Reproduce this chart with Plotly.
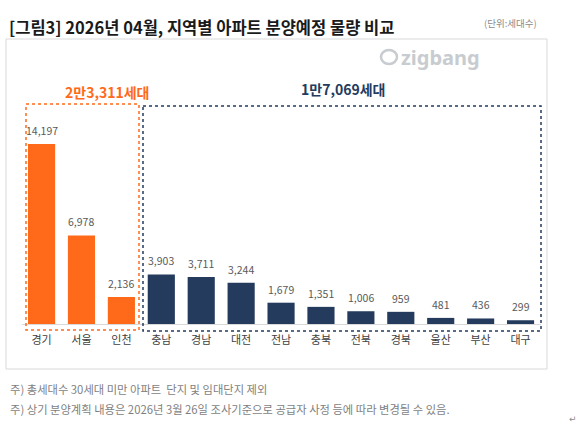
import plotly.graph_objects as go

W, H = 580, 426

regions = ["경기", "서울", "인천", "충남", "경남", "대전", "전남", "충북", "전북", "경북", "울산", "부산", "대구"]
units = [14197, 6978, 2136, 3903, 3711, 3244, 1679, 1351, 1006, 959, 481, 436, 299]
groups = ["capital"] * 3 + ["local"] * 10

title_text = "[그림3] 2026년 04월, 지역별 아파트 분양예정 물량 비교"
unit_text = "(단위:세대수)"
capital_total = "2만3,311세대"
local_total = "1만7,069세대"
notes = [
    "주) 총세대수 30세대 미만 아파트  단지 및 임대단지 제외",
    "주) 상기 분양계획 내용은 2026년 3월 26일 조사기준으로 공급자 사정 등에 따라 변경될 수 있음.",
]

ORANGE = "#FF6A1A"
NAVY = "#243B5E"
FONT = "Noto Sans CJK KR"

def px(x):
    return x / W

def py(y):
    return (H - y) / H

colors = [ORANGE if g == "capital" else NAVY for g in groups]

fig = go.Figure(go.Bar(
    x=regions, y=units, marker_color=colors, marker_line_width=0,
    width=0.68, hoverinfo="skip",
))

ann = []
for r, v in zip(regions, units):
    ann.append(dict(x=r, y=v, xref="x", yref="y", text=f"{v:,}", showarrow=False,
                    yanchor="bottom", yshift=4,
                    font=dict(family=FONT, size=10.5, color="#595959")))

ann += [
    dict(x=px(7), y=py(27), xref="paper", yref="paper", text=f"<b>{title_text}</b>",
         showarrow=False, xanchor="left", yanchor="middle",
         font=dict(family=FONT, size=16.5, color="#1A1A1A")),
    dict(x=px(539), y=py(23), xref="paper", yref="paper", text=unit_text,
         showarrow=False, xanchor="right", yanchor="middle",
         font=dict(family=FONT, size=9.5, color="#8C8C8C")),
    dict(x=px(107), y=py(92), xref="paper", yref="paper", text=f"<b>{capital_total}</b>",
         showarrow=False, xanchor="center", yanchor="middle",
         font=dict(family=FONT, size=14, color=ORANGE)),
    dict(x=px(343), y=py(89), xref="paper", yref="paper", text=f"<b>{local_total}</b>",
         showarrow=False, xanchor="center", yanchor="middle",
         font=dict(family=FONT, size=14, color=NAVY)),
    dict(x=px(399), y=py(57), xref="paper", yref="paper", text="<b>zigbang</b>",
         showarrow=False, xanchor="left", yanchor="middle",
         font=dict(family="Noto Sans", size=20, color="#C8CCD0")),
    dict(x=px(8), y=py(389), xref="paper", yref="paper", text=notes[0],
         showarrow=False, xanchor="left", yanchor="middle",
         font=dict(family=FONT, size=11.3, color="#7F7F7F")),
    dict(x=px(8), y=py(409), xref="paper", yref="paper", text=notes[1],
         showarrow=False, xanchor="left", yanchor="middle",
         font=dict(family=FONT, size=11.3, color="#7F7F7F")),
    dict(x=px(573), y=py(419), xref="paper", yref="paper", text="↵",
         showarrow=False, xanchor="center", yanchor="middle",
         font=dict(family="DejaVu Sans", size=9, color="#8C8C8C")),
]

shapes = [
    # outer frame
    dict(type="rect", xref="paper", yref="paper", x0=px(6), x1=px(547), y0=py(39), y1=py(369),
         line=dict(color="#D9D9D9", width=1), fillcolor="rgba(0,0,0,0)", layer="below"),
    # group boxes
    dict(type="rect", xref="paper", yref="paper", x0=px(26), x1=px(139), y0=py(104), y1=py(330),
         line=dict(color=ORANGE, width=1.5, dash="dot"), fillcolor="rgba(0,0,0,0)"),
    dict(type="rect", xref="paper", yref="paper", x0=px(143), x1=px(541), y0=py(106), y1=py(331),
         line=dict(color=NAVY, width=1.5, dash="dot"), fillcolor="rgba(0,0,0,0)"),
    # logo icon
    dict(type="circle", xref="paper", yref="paper", x0=px(381), x1=px(397), y0=py(64), y1=py(50),
         line=dict(color="#C8CCD0", width=2.5), fillcolor="rgba(0,0,0,0)"),
]

fig.update_layout(
    width=W, height=H,
    margin=dict(l=0, r=0, t=0, b=0),
    paper_bgcolor="white", plot_bgcolor="white",
    showlegend=False,
    annotations=ann, shapes=shapes,
    xaxis=dict(domain=[px(21.6), px(540.5)], range=[-0.5, 12.5], showgrid=False,
               showline=True, linecolor="#D9D9D9", linewidth=1,
               ticks="outside", ticklen=6, tickcolor="rgba(0,0,0,0)",
               tickfont=dict(family=FONT, size=11, color="#404040"),
               fixedrange=True, automargin=False),
    yaxis=dict(domain=[py(324), py(121)], range=[0, 16000], visible=False,
               fixedrange=True, automargin=False),
)

fig.write_html("out.html", config={"displayModeBar": False},
               post_script="document.body.style.margin='0';document.body.style.overflow='hidden';")
